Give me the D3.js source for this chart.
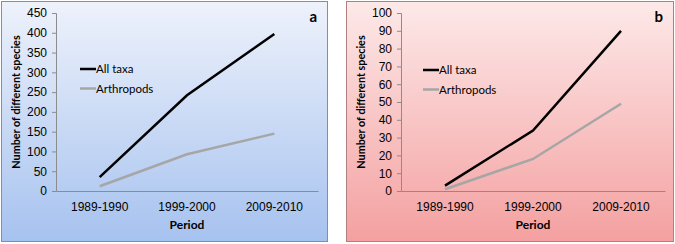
<!DOCTYPE html>
<html>
<head>
<meta charset="utf-8">
<script src="https://cdn.jsdelivr.net/npm/d3@7"></script>
<style>
  body { margin: 0; background: #fff; }
  svg { display: block; font-family: Lato, "Open Sans", sans-serif; }
</style>
</head>
<body>
<svg id="chart" width="675" height="244"></svg>
<script>
const periods = ['1989-1990', '1999-2000', '2009-2010'];
const seriesNames = ['All taxa', 'Arthropods'];
const allTaxaA = [35, 242, 397];
const arthropodsA = [12, 93, 145];
const allTaxaB = [3, 34, 90];
const arthropodsB = [1, 18, 49];
const ticksA = [0, 50, 100, 150, 200, 250, 300, 350, 400, 450];
const ticksB = [0, 10, 20, 30, 40, 50, 60, 70, 80, 90, 100];

const svg = d3.select('#chart');
const defs = svg.append('defs');

function gradient(id, top, bottom) {
  const g = defs.append('linearGradient')
    .attr('id', id)
    .attr('x1', 0).attr('y1', 0).attr('x2', 0).attr('y2', 1);
  g.append('stop').attr('offset', '0%').attr('stop-color', top);
  g.append('stop').attr('offset', '100%').attr('stop-color', bottom);
}
gradient('gradA', '#eef2fb', '#a6c2ef');
gradient('gradB', '#fde9e9', '#f4a0a0');

/**
 * Draw one panel
 */
function panel(opt) {
  const g = svg.append('g').attr('transform', `translate(${opt.x},${opt.y})`);
  g.append('rect')
    .attr('x', 0.5).attr('y', 0.5)
    .attr('width', opt.w).attr('height', opt.h)
    .attr('fill', `url(#${opt.grad})`)
    .attr('stroke', opt.border);

  const x = d3.scaleBand().domain(periods).range([opt.left, opt.right]);
  const y = d3.scaleLinear().domain([0, opt.max]).range([opt.bottom, opt.top]);

  // y axis
  const yAxis = g.append('g')
    .attr('transform', `translate(${opt.left},0)`)
    .call(d3.axisLeft(y).tickValues(opt.ticks).tickSize(4).tickPadding(5));
  yAxis.select('.domain').attr('stroke', '#8c8c8c');
  yAxis.selectAll('.tick line').attr('stroke', '#8c8c8c');
  yAxis.selectAll('text').attr('font-size', 12).attr('fill', '#000');

  // x axis
  const xAxis = g.append('g')
    .attr('transform', `translate(0,${opt.bottom})`)
    .call(d3.axisBottom(x).tickSize(0).tickPadding(11));
  xAxis.select('.domain').attr('stroke', '#8c8c8c');
  xAxis.selectAll('text').attr('font-size', 12).attr('fill', '#000');

  const line = d3.line()
    .x((d, i) => x(periods[i]) + x.bandwidth() / 2)
    .y((d) => y(d));

  const colors = ['#000', '#a6a6a6'];
  [opt.all, opt.arth].forEach((vals, i) => {
    g.append('path')
      .datum(vals)
      .attr('d', line)
      .attr('fill', 'none')
      .attr('stroke', colors[i])
      .attr('stroke-width', 2.5);
  });

  // legend
  seriesNames.forEach((name, i) => {
    const ly = opt.legendY + i * 19.5;
    g.append('line')
      .attr('x1', opt.legendX).attr('x2', opt.legendX + 16)
      .attr('y1', ly).attr('y2', ly)
      .attr('stroke', colors[i]).attr('stroke-width', 2.5);
    g.append('text')
      .attr('x', opt.legendX + 16).attr('y', ly + 4)
      .attr('font-size', 11.5)
      .text(name);
  });

  // titles
  g.append('text')
    .attr('transform', `translate(${opt.left - 36},${(opt.top + opt.bottom) / 2}) rotate(-90)`)
    .attr('text-anchor', 'middle')
    .attr('font-size', 10.8).attr('font-weight', 'bold')
    .text('Number of different species');
  g.append('text')
    .attr('x', (opt.left + opt.right) / 2).attr('y', opt.bottom + 38)
    .attr('text-anchor', 'middle')
    .attr('font-size', 12).attr('font-weight', 'bold')
    .text('Period');
  g.append('text')
    .attr('x', opt.w - 10).attr('y', 21)
    .attr('text-anchor', 'end')
    .attr('font-size', 15).attr('font-weight', 'bold')
    .text(opt.label);
}

panel({
  x: 1, y: 1, w: 326, h: 240, grad: 'gradA', border: '#7f8fa8',
  left: 55, right: 317, top: 12, bottom: 190,
  max: 450, ticks: ticksA, all: allTaxaA, arth: arthropodsA,
  legendX: 79, legendY: 68, label: 'a',
});
panel({
  x: 346, y: 1, w: 327, h: 240, grad: 'gradB', border: '#b07f7f',
  left: 55, right: 319, top: 12, bottom: 190,
  max: 100, ticks: ticksB, all: allTaxaB, arth: arthropodsB,
  legendX: 77, legendY: 69, label: 'b',
});
</script>
</body>
</html>
